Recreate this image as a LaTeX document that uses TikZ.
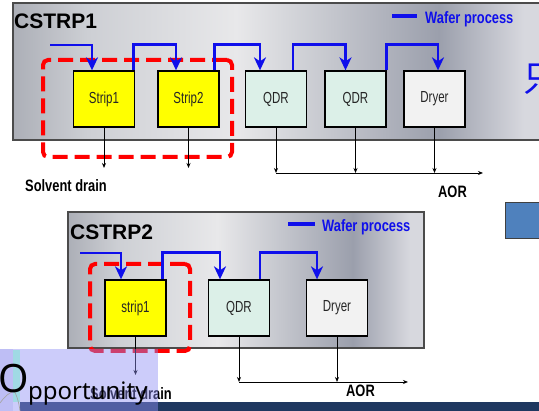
\documentclass[tikz,border=0pt]{standalone}
\usepackage{fontspec}
\setmainfont{Liberation Sans}
\newfontfamily\narrowfont[FakeStretch=0.72]{Liberation Sans}
\newfontfamily\labelfont[FakeStretch=0.78]{Liberation Sans}
\newfontfamily\cjkfont{Noto Sans CJK SC}
\newfontfamily\slidefont{Noto Sans}
\usepackage{tikz}
\usetikzlibrary{arrows.meta}

\definecolor{waferblue}{RGB}{15,15,235}
\definecolor{groupred}{RGB}{255,0,0}
\definecolor{stripyellow}{RGB}{255,255,0}
\definecolor{qdrmint}{RGB}{220,240,232}
\definecolor{dryergray}{RGB}{242,242,242}
\definecolor{panelgray}{RGB}{75,75,75}
\definecolor{steelblue}{RGB}{79,129,189}
\definecolor{navybar}{RGB}{31,56,96}
\definecolor{lavmask}{RGB}{142,142,244}
\definecolor{lilac}{RGB}{190,190,245}
\definecolor{paleteal}{RGB}{160,218,228}
\definecolor{metA}{RGB}{172,175,183}
\definecolor{metB}{RGB}{205,207,212}
\definecolor{metC}{RGB}{232,232,234}
\definecolor{metD}{RGB}{196,198,205}
\definecolor{metE}{RGB}{155,159,172}
\definecolor{metF}{RGB}{215,216,222}

\pgfdeclarehorizontalshading{metal}{100bp}{color(0bp)=(metA); color(25bp)=(metA);
  color(32bp)=(metB); color(46bp)=(metC); color(55bp)=(metD); color(65bp)=(metE);
  color(73bp)=(metF); color(75bp)=(metF); color(100bp)=(metF)}

\begin{document}
\begin{tikzpicture}[x=1pt, y=-1pt,
  panel/.style={draw=panelgray, line width=1.8pt, shade, shading=metal, inner sep=0pt},
  box/.style={draw=black, line width=1.3pt, minimum width=61pt, minimum height=56pt,
    inner sep=0pt, text=black!85, font=\narrowfont\fontsize{16}{16}\selectfont},
  stripbox/.style={box, fill=stripyellow},
  qdrbox/.style={box, fill=qdrmint},
  dryerbox/.style={box, fill=dryergray},
  wafer/.style={draw=waferblue, line width=2.6pt, -{Stealth[length=13pt,width=12pt,inset=4pt]}},
  legendline/.style={draw=waferblue, line width=3.5pt},
  drain/.style={draw=black, line width=0.9pt, -{Stealth[length=5pt,width=4pt]}},
  redgroup/.style={draw=groupred, line width=4pt, dash pattern=on 15pt off 7pt,
    rounded corners=5pt, inner sep=0pt},
  paneltitle/.style={font=\fontsize{21}{21}\selectfont\bfseries, inner sep=0pt, anchor=base west},
  lbl/.style={font=\labelfont\fontsize{16.5}{16.5}\selectfont\bfseries, inner sep=0pt, anchor=base west}
]
\useasboundingbox (0,0) rectangle (539,411);
\clip (0,0) rectangle (539,411);

% CSTRP1
\node[panel, minimum width=532pt, minimum height=137pt] (pan1) at (279,71.5) {};
\node[paneltitle] (t1) at (14,28.3) {CSTRP1};
\coordinate (k1a) at (392,16);
\coordinate (k1b) at (417,16);
\draw[legendline] (k1a) -- (k1b);
\node[lbl, text=waferblue] (w1) at (425,23.5) {Wafer process};
\node[text=waferblue, font=\cjkfont\fontsize{36}{36}\selectfont, anchor=west, inner sep=0pt] (zh) at (523,79) {只};

\node[stripbox] (s1) at (104,99) {Strip1};
\node[stripbox] (s2) at (188.5,99) {Strip2};
\node[qdrbox] (q1) at (276,99) {QDR};
\node[qdrbox] (q2) at (355.5,99) {QDR};
\node[dryerbox] (d1) at (434.5,99) {Dryer};

\node[redgroup, minimum width=189pt, minimum height=97pt] (g1) at (137.5,108.5) {};

% wafer flow
\coordinate (in1) at (50,45);
\draw[wafer] (in1) -| ([xshift=-12pt]s1.north);
\draw[wafer] ([xshift=-1.5pt]s1.north east) -- ++(0,-26) -| ([xshift=-12.5pt]s2.north);
\draw[wafer] ([xshift=-5pt]s2.north east) -- ++(0,-26) -| ([xshift=-16pt]q1.north);
\draw[wafer] ([xshift=-14pt]q1.north east) -- ++(0,-26) -| ([xshift=-10pt]q2.north);
\draw[wafer] (q2.north east) -- ++(0,-26) -| ([xshift=3.5pt]d1.north);

% drains
\coordinate (e1) at (s1.south |- 0,168);
\coordinate (e2) at (s2.south |- 0,168);
\draw[drain] (s1) -- (e1);
\draw[drain] (s2) -- (e2);
\node[lbl] (sd1) at (25,192) {Solvent drain};

\coordinate (a1) at (q1.south |- 0,173);
\coordinate (a2) at (q2.south |- 0,173);
\coordinate (a3) at (d1.south |- 0,173);
\coordinate (a4) at (483,173);
\draw[drain] (q1) -- (a1);
\draw[drain] (q2) -- (a2);
\draw[drain] (d1) -- (a3);
\draw[drain] (a1) -- (a4);
\node[lbl] (aor1) at (438,198) {AOR};

% side box
\node[draw=black!75, line width=1pt, fill=steelblue, minimum width=40pt, minimum height=36pt, inner sep=0pt] (blk) at (525,221) {};

% CSTRP2
\node[panel, minimum width=356pt, minimum height=136pt] (pan2) at (246,280) {};
\node[paneltitle] (t2) at (70,240) {CSTRP2};
\coordinate (k2a) at (288,224);
\coordinate (k2b) at (315,224);
\draw[legendline] (k2a) -- (k2b);
\node[lbl, text=waferblue] (w2) at (322,232) {Wafer process};

\node[stripbox] (b1) at (135.5,308) {strip1};
\node[qdrbox] (b2) at (239,308) {QDR};
\node[dryerbox] (b3) at (337,308) {Dryer};

\node[redgroup, minimum width=100pt, minimum height=87pt] (g2) at (140,307.5) {};

\coordinate (in2) at (80,253);
\draw[wafer] (in2) -| ([xshift=-14.5pt]b1.north);
\draw[wafer] ([xshift=-4pt]b1.north east) -- ++(0,-27) -| ([xshift=-19pt]b2.north);
\draw[wafer] ([xshift=-10pt]b2.north east) -- ++(0,-27) -| ([xshift=-20pt]b3.north);

\coordinate (f1) at (b1.south |- 0,375);
\draw[drain] (b1) -- (f1);
\node[lbl] (sd2) at (90,400) {Solvent drain};

\coordinate (c1) at (b2.south |- 0,382);
\coordinate (c2) at (b3.south |- 0,382);
\coordinate (c3) at (408,382);
\draw[drain] (b2) -- (c1);
\draw[drain] (b3) -- (c2);
\draw[drain] (c1) -- (c3);
\node[lbl] (aor2) at (346,397) {AOR};

% slide footer, lying over the lower left corner
\fill[navybar] (20,402) rectangle (539,411);
\fill[lavmask, opacity=0.45] (0,349) rectangle (158,411);
\fill[lilac] (0,349) rectangle (13,411);
\fill[paleteal] (13,350) rectangle (20,402);
\draw[gray!70, line width=0.7pt] (0,403) .. controls (5,396) and (10,392) .. (16,390);
\draw[gray!70, line width=0.7pt] (13,389) .. controls (17,395) and (19,403) .. (20,411);
\node[font=\slidefont\fontsize{39}{39}\selectfont, anchor=base west, inner sep=0pt] (op1) at (-2,393) {O};
\node[font=\slidefont\fontsize{24}{24}\selectfont, anchor=base west, inner sep=0pt] (op2) at (28,400) {pportunity};
\end{tikzpicture}
\end{document}
